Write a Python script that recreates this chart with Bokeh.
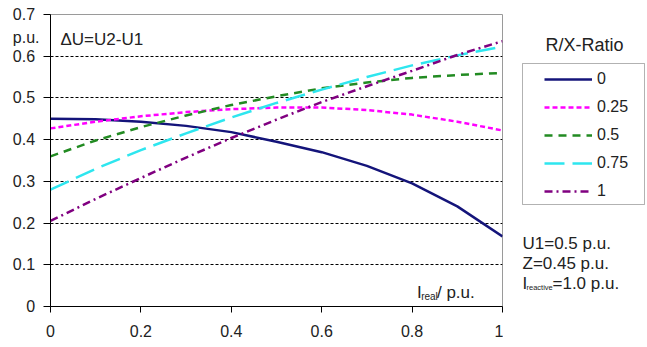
from bokeh.plotting import figure
from bokeh.layouts import row
from bokeh.models import (Range1d, FixedTicker, Label, Legend, LegendItem,
                          BoxAnnotation, LinearAxis)
from bokeh.embed import file_html
from bokeh.resources import INLINE

# ---- data ----
i_real = [0.0, 0.1, 0.2, 0.3, 0.4, 0.5, 0.6, 0.7, 0.8, 0.9, 1.0]
du_rx_0 = [0.450, 0.449, 0.443, 0.433, 0.418, 0.395, 0.370, 0.337, 0.295, 0.240, 0.168]
du_rx_025 = [0.427, 0.443, 0.456, 0.466, 0.473, 0.477, 0.477, 0.471, 0.460, 0.443, 0.422]
du_rx_05 = [0.360, 0.398, 0.430, 0.458, 0.483, 0.504, 0.523, 0.537, 0.548, 0.555, 0.560]
du_rx_075 = [0.280, 0.330, 0.375, 0.415, 0.453, 0.488, 0.520, 0.550, 0.578, 0.602, 0.623]
du_rx_1 = [0.205, 0.258, 0.308, 0.357, 0.404, 0.448, 0.490, 0.528, 0.565, 0.603, 0.636]
series_labels = ["0", "0.25", "0.5", "0.75", "1"]
x_ticks = [0, 0.2, 0.4, 0.6, 0.8, 1.0]
x_tick_labels = ["0", "0.2", "0.4", "0.6", "0.8", "1"]
y_ticks = [0, 0.1, 0.2, 0.3, 0.4, 0.5, 0.6, 0.7]
y_tick_labels = ["0", "0.1", "0.2", "0.3", "0.4", "0.5", "0.6", "0.7"]
grid_ticks = [0.1, 0.2, 0.3, 0.4, 0.5, 0.6]
unit_tick = 0.644

FONT = "Liberation Sans"
TXT = "#222222"
NBSP = "\u00a0"

p = figure(width=503, height=347, output_backend="svg", toolbar_location=None,
           x_range=Range1d(0, 1), y_range=Range1d(0, 0.7),
           y_axis_location=None,
           min_border_left=50, min_border_right=1,
           min_border_top=14, min_border_bottom=41)
p.background_fill_color = "white"
p.border_fill_color = "white"
p.outline_line_color = "#9a9a9a"
p.outline_line_width = 1

# x axis
xa = p.xaxis[0]
xa.ticker = FixedTicker(ticks=x_ticks)
xa.axis_line_color = "black"
xa.major_tick_line_color = "black"
xa.minor_tick_line_color = None
xa.major_tick_in = 0
xa.major_tick_out = 6
xa.major_label_standoff = 12
xa.major_label_text_font = FONT
xa.major_label_text_font_size = "16px"
xa.major_label_text_color = TXT
xa.major_label_overrides = dict(zip(x_ticks, x_tick_labels))

# inner y axis: line and tick marks only
ya_in = LinearAxis(ticker=FixedTicker(ticks=y_ticks))
ya_in.axis_line_color = "black"
ya_in.major_tick_line_color = "black"
ya_in.minor_tick_line_color = None
ya_in.major_tick_in = 0
ya_in.major_tick_out = 7
ya_in.major_label_standoff = 0
ya_in.major_label_overrides = {t: "" for t in y_ticks}
ya_in.major_label_text_font_size = "1px"
p.add_layout(ya_in, "left")

# outer y axis: tick labels plus the unit text
ya_out = LinearAxis(ticker=FixedTicker(ticks=y_ticks + [unit_tick]))
ya_out.axis_line_color = None
ya_out.major_tick_line_color = None
ya_out.minor_tick_line_color = None
ya_out.major_tick_in = 0
ya_out.major_tick_out = 0
ya_out.major_label_standoff = 4
ya_out.major_label_text_font = FONT
ya_out.major_label_text_font_size = "16px"
ya_out.major_label_text_color = TXT
overrides = {t: s + NBSP for t, s in zip(y_ticks, y_tick_labels)}
overrides[unit_tick] = "p.u."
ya_out.major_label_overrides = overrides
p.add_layout(ya_out, "left")

p.xgrid.visible = False
p.ygrid.ticker = FixedTicker(ticks=grid_ticks)
p.ygrid.grid_line_color = "black"
p.ygrid.grid_line_width = 1
p.ygrid.grid_line_dash = "3 2"

styles = [
    (du_rx_0, "#14147a", "solid"),
    (du_rx_025, "#ff00ff", "5 3"),
    (du_rx_05, "#228b22", "8 6"),
    (du_rx_075, "#2ee6ef", "20 8"),
    (du_rx_1, "#800080", "8 4 2 4"),
]
for ys, col, dash in styles:
    p.line(i_real, ys, line_color=col, line_width=2.5, line_dash=dash)


def lab(fig, x, y, text, size="16px", align="left"):
    fig.add_layout(Label(x=x, y=y, text=text, text_font=FONT, text_font_size=size,
                         text_color=TXT, text_align=align, text_baseline="middle"))


lab(p, 0.022, 0.640, "\u0394U=U2-U1", size="17px")
lab(p, 0.811, 0.033, "I", size="17px")
lab(p, 0.820, 0.024, "real", size="10px")
lab(p, 0.855, 0.033, "/ p.u.", size="17px")

# ---- side panel: legend and notes (its frame is aligned with the main frame) ----
side = figure(width=144, height=347, output_backend="svg", toolbar_location=None,
              x_range=Range1d(0, 144), y_range=Range1d(306, 14),
              x_axis_location=None, y_axis_location=None,
              min_border=0)
side.outline_line_color = None
side.grid.visible = False
side.background_fill_color = "white"
side.border_fill_color = "white"

nan = float("nan")
items = []
for (ys, col, dash), name in zip(styles, series_labels):
    r = side.line([nan], [nan], line_color=col, line_width=2.5, line_dash=dash)
    items.append(LegendItem(label=name, renderers=[r]))

side.add_layout(BoxAnnotation(left=19, right=141, top=63, bottom=204,
                              fill_color=None, line_color="black", line_width=1))
legend = Legend(items=items, location=(41, 105))
legend.border_line_color = None
legend.background_fill_alpha = 0
legend.padding = 0
legend.margin = 0
legend.spacing = 8
legend.glyph_width = 48
legend.glyph_height = 20
legend.label_height = 20
legend.label_standoff = 5
legend.label_text_font = FONT
legend.label_text_font_size = "16px"
legend.label_text_color = TXT
side.add_layout(legend)

lab(side, 81, 44, "R/X-Ratio", size="18px", align="center")
lab(side, 19, 243, "U1=0.5 p.u.", size="17px")
lab(side, 19, 263, "Z=0.45 p.u.", size="17px")
lab(side, 19, 283, "I", size="17px")
lab(side, 23, 287, "reactive", size="7.5px")
lab(side, 49, 283, "=1.0 p.u.", size="17px")

open("out.html", "w").write(file_html(row(p, side), INLINE))
